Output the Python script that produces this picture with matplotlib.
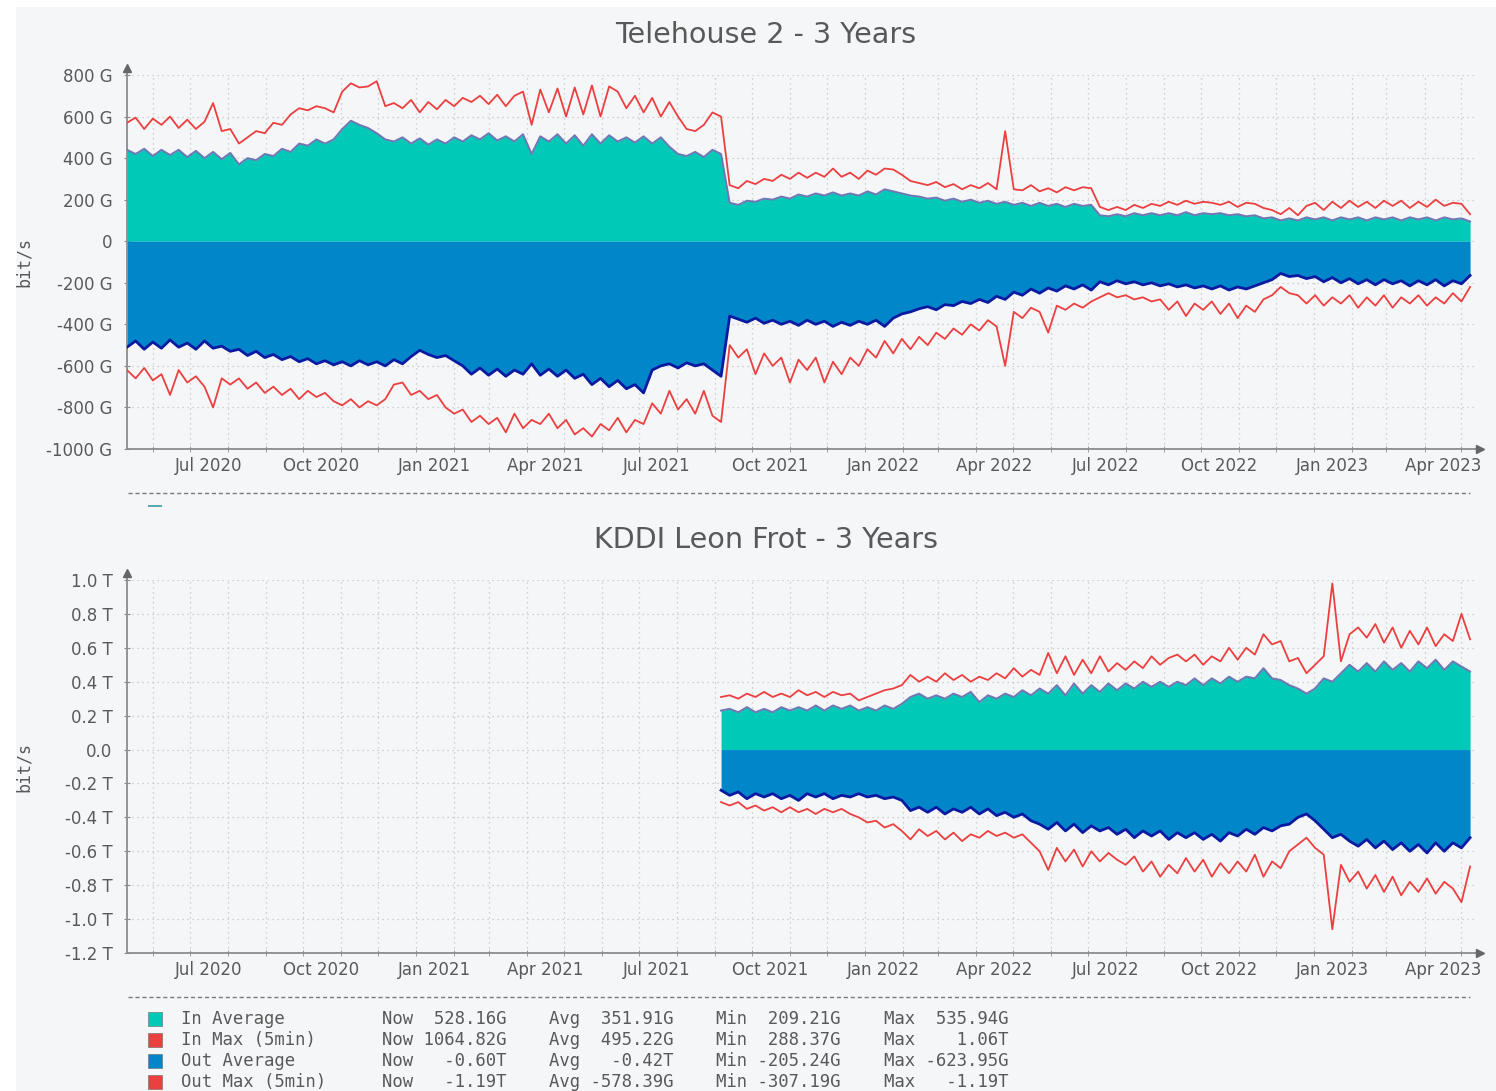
"""Telehouse 2 / KDDI Leon Frot - 3 year traffic graphs (rrd style)."""

import numpy as np
import pandas as pd
import matplotlib
matplotlib.use('Agg')
import matplotlib.pyplot as plt
import matplotlib.dates as mdates
from matplotlib.lines import Line2D
from matplotlib.patches import Rectangle

W, H = 1496, 1091

# weekly samples, 11 May 2020 -> 8 May 2023
dates = pd.date_range('2020-05-11', periods=157, freq='7D')
kddi_first = 69  # KDDI link starts early Sep 2021

# --- Telehouse 2 (G bit/s) ---
th_in_avg = [
    440, 420, 445, 410, 440, 415, 440, 405, 435, 400,
    430, 395, 425, 370, 400, 390, 420, 410, 445, 430,
    470, 460, 490, 470, 490, 540, 580, 560, 545, 520,
    490, 480, 500, 470, 495, 465, 490, 470, 500, 480,
    510, 490, 520, 485, 505, 480, 515, 420, 505, 480,
    515, 470, 510, 460, 515, 470, 510, 480, 500, 475,
    505, 470, 500, 455, 420, 410, 430, 405, 440, 420,
    185, 175, 195, 190, 205, 200, 215, 205, 225, 215,
    230, 220, 235, 220, 230, 220, 240, 225, 250, 240,
    230, 220, 215, 205, 210, 195, 205, 190, 200, 185,
    195, 180, 190, 175, 185, 170, 185, 170, 180, 165,
    180, 170, 175, 125, 120, 130, 120, 135, 125, 135,
    125, 135, 125, 140, 125, 135, 130, 135, 125, 130,
    120, 125, 110, 115, 100, 110, 100, 115, 105, 115,
    100, 115, 105, 115, 100, 115, 105, 115, 100, 115,
    105, 115, 100, 115, 105, 110, 95,
]
th_in_max = [
    570, 595, 540, 590, 560, 600, 545, 585, 540, 575,
    665, 530, 540, 470, 500, 530, 520, 570, 560, 610,
    640, 630, 650, 640, 620, 720, 760, 740, 745, 770,
    650, 665, 640, 680, 620, 670, 635, 680, 650, 690,
    670, 700, 660, 705, 650, 700, 720, 560, 730, 620,
    735, 600, 740, 610, 750, 600, 745, 720, 640, 700,
    620, 690, 600, 670, 600, 540, 530, 560, 620, 600,
    270, 255, 290, 275, 300, 290, 320, 300, 330, 305,
    330, 310, 350, 310, 330, 300, 340, 320, 350, 345,
    320, 290, 280, 270, 285, 260, 275, 250, 270, 255,
    280, 250, 530, 250, 245, 270, 240, 255, 235, 260,
    245, 260, 255, 165, 150, 165, 150, 175, 160, 180,
    170, 190, 175, 195, 180, 190, 185, 175, 190, 165,
    185, 180, 160, 150, 130, 160, 125, 170, 185, 150,
    190, 160, 195, 165, 190, 160, 195, 170, 195, 160,
    190, 165, 200, 170, 185, 180, 130,
]
th_out_avg = [
    -510, -480, -520, -485, -515, -475, -510, -490, -520, -480,
    -515, -505, -530, -520, -550, -530, -560, -545, -570, -555,
    -580, -565, -590, -575, -595, -580, -600, -575, -595, -580,
    -600, -570, -590, -555, -525, -545, -560, -550, -575, -600,
    -640, -610, -645, -615, -650, -620, -640, -590, -645, -615,
    -650, -620, -660, -640, -690, -660, -700, -670, -710, -690,
    -730, -620, -600, -590, -610, -585, -600, -590, -620, -650,
    -360, -375, -390, -370, -395, -380, -400, -385, -405, -380,
    -400, -385, -410, -390, -405, -385, -400, -380, -410, -370,
    -350, -340, -325, -315, -330, -305, -310, -290, -300, -280,
    -295, -265, -280, -245, -260, -230, -250, -225, -240, -215,
    -230, -210, -235, -195, -210, -190, -205, -195, -210, -200,
    -215, -205, -220, -210, -225, -215, -230, -215, -235, -220,
    -230, -215, -200, -185, -155, -170, -165, -180, -170, -195,
    -175, -200, -180, -205, -185, -210, -185, -205, -190, -215,
    -190, -210, -185, -215, -190, -205, -165,
]
th_out_max = [
    -620, -660, -610, -670, -640, -740, -620, -680, -650, -700,
    -800, -660, -690, -660, -710, -680, -730, -700, -740, -710,
    -760, -720, -750, -730, -770, -790, -760, -800, -770, -790,
    -760, -690, -680, -740, -720, -760, -740, -800, -830, -810,
    -870, -840, -880, -850, -920, -830, -900, -860, -880, -830,
    -900, -860, -930, -900, -940, -880, -910, -850, -920, -860,
    -880, -780, -830, -720, -810, -760, -830, -720, -840, -870,
    -500, -560, -520, -640, -540, -600, -560, -680, -570, -620,
    -560, -680, -580, -640, -560, -600, -520, -560, -480, -540,
    -470, -520, -460, -500, -440, -470, -420, -450, -400, -430,
    -380, -410, -600, -340, -370, -320, -340, -440, -310, -330,
    -300, -320, -290, -270, -250, -270, -260, -280, -270, -290,
    -280, -330, -290, -360, -300, -330, -290, -350, -300, -370,
    -310, -340, -280, -260, -220, -250, -260, -300, -260, -310,
    -270, -300, -260, -320, -270, -310, -260, -320, -270, -300,
    -260, -310, -270, -300, -250, -290, -220,
]

# --- KDDI Leon Frot (T bit/s), from kddi_first onwards ---
kd_in_avg = [
    0.23, 0.24, 0.22, 0.25, 0.22, 0.24, 0.22, 0.25, 0.23, 0.25,
    0.23, 0.26, 0.23, 0.26, 0.24, 0.26, 0.23, 0.25, 0.23, 0.26,
    0.24, 0.27, 0.31, 0.33, 0.30, 0.32, 0.30, 0.33, 0.31, 0.34,
    0.28, 0.32, 0.30, 0.33, 0.31, 0.35, 0.32, 0.36, 0.33, 0.38,
    0.32, 0.39, 0.33, 0.38, 0.34, 0.39, 0.35, 0.39, 0.36, 0.40,
    0.37, 0.40, 0.37, 0.40, 0.38, 0.42, 0.38, 0.42, 0.39, 0.43,
    0.40, 0.43, 0.42, 0.48, 0.42, 0.41, 0.38, 0.36, 0.33, 0.36,
    0.42, 0.40, 0.45, 0.50, 0.46, 0.51, 0.46, 0.52, 0.47, 0.51,
    0.46, 0.52, 0.48, 0.53, 0.47, 0.52, 0.49, 0.46,
]
kd_in_max = [
    0.31, 0.32, 0.30, 0.33, 0.31, 0.34, 0.31, 0.33, 0.31, 0.35,
    0.32, 0.34, 0.31, 0.34, 0.32, 0.33, 0.29, 0.31, 0.33, 0.35,
    0.36, 0.38, 0.44, 0.40, 0.43, 0.40, 0.45, 0.41, 0.44, 0.40,
    0.43, 0.41, 0.45, 0.42, 0.48, 0.43, 0.47, 0.44, 0.57, 0.45,
    0.55, 0.44, 0.53, 0.45, 0.55, 0.46, 0.51, 0.47, 0.52, 0.48,
    0.55, 0.50, 0.54, 0.56, 0.52, 0.56, 0.50, 0.55, 0.52, 0.60,
    0.53, 0.60, 0.56, 0.68, 0.62, 0.64, 0.52, 0.54, 0.45, 0.50,
    0.55, 0.98, 0.52, 0.68, 0.72, 0.66, 0.74, 0.63, 0.72, 0.60,
    0.70, 0.62, 0.72, 0.61, 0.68, 0.64, 0.80, 0.65,
]
kd_out_avg = [
    -0.24, -0.27, -0.25, -0.29, -0.26, -0.28, -0.26, -0.29, -0.27, -0.30,
    -0.26, -0.28, -0.26, -0.29, -0.27, -0.28, -0.26, -0.28, -0.27, -0.29,
    -0.28, -0.30, -0.36, -0.34, -0.37, -0.34, -0.38, -0.35, -0.37, -0.34,
    -0.38, -0.35, -0.39, -0.37, -0.40, -0.38, -0.42, -0.44, -0.47, -0.43,
    -0.48, -0.44, -0.49, -0.45, -0.48, -0.46, -0.50, -0.47, -0.52, -0.48,
    -0.51, -0.48, -0.53, -0.49, -0.52, -0.49, -0.53, -0.50, -0.54, -0.49,
    -0.51, -0.47, -0.50, -0.46, -0.48, -0.45, -0.44, -0.40, -0.38, -0.42,
    -0.47, -0.52, -0.50, -0.54, -0.57, -0.53, -0.58, -0.54, -0.59, -0.55,
    -0.60, -0.56, -0.61, -0.55, -0.60, -0.55, -0.58, -0.52,
]
kd_out_max = [
    -0.31, -0.33, -0.31, -0.35, -0.33, -0.36, -0.34, -0.37, -0.34, -0.37,
    -0.35, -0.38, -0.35, -0.37, -0.35, -0.38, -0.40, -0.43, -0.42, -0.46,
    -0.44, -0.48, -0.53, -0.47, -0.51, -0.48, -0.53, -0.49, -0.54, -0.50,
    -0.52, -0.48, -0.51, -0.49, -0.52, -0.50, -0.55, -0.60, -0.71, -0.58,
    -0.66, -0.59, -0.69, -0.60, -0.66, -0.61, -0.65, -0.68, -0.63, -0.72,
    -0.66, -0.75, -0.68, -0.73, -0.64, -0.72, -0.65, -0.75, -0.67, -0.73,
    -0.66, -0.72, -0.62, -0.75, -0.66, -0.70, -0.60, -0.56, -0.52, -0.58,
    -0.62, -1.06, -0.68, -0.78, -0.72, -0.82, -0.74, -0.84, -0.75, -0.86,
    -0.78, -0.84, -0.76, -0.85, -0.78, -0.82, -0.90, -0.69,
]

th_yticks = [800, 600, 400, 200, 0, -200, -400, -600, -800, -1000]
th_ylabels = ['800 G', '600 G', '400 G', '200 G', '0', '-200 G', '-400 G',
              '-600 G', '-800 G', '-1000 G']
kd_yticks = [1.0, 0.8, 0.6, 0.4, 0.2, 0.0, -0.2, -0.4, -0.6, -0.8, -1.0, -1.2]
kd_ylabels = ['1.0 T', '0.8 T', '0.6 T', '0.4 T', '0.2 T', '0.0', '-0.2 T',
              '-0.4 T', '-0.6 T', '-0.8 T', '-1.0 T', '-1.2 T']

legend_names = ['In Average', 'In Max (5min)', 'Out Average', 'Out Max (5min)']
legend_now = ['528.16G', '1064.82G', '-0.60T', '-1.19T']
legend_avg = ['351.91G', '495.22G', '-0.42T', '-578.39G']
legend_min = ['209.21G', '288.37G', '-205.24G', '-307.19G']
legend_max = ['535.94G', '1.06T', '-623.95G', '-1.19T']

TEAL = '#00c9b7'
TEAL_EDGE = '#7176b4'
BLUE = '#0086c9'
NAVY = '#0a1aa0'
RED = '#ec3f3f'
TXT = '#595959'
AXC = '#8c8c8c'
GRIDC = '#c4c4c4'

fig = plt.figure(figsize=(W / 100, H / 100), dpi=100, facecolor='white')
fig.add_artist(Rectangle((16 / W, 0), 1 - 16 / W, 1 - 7 / H, transform=fig.transFigure,
                         facecolor='#f5f6f8', edgecolor='none', zorder=0))

xmin = pd.Timestamp('2020-05-11')
xmax = pd.Timestamp('2023-05-12')
month_starts = pd.date_range('2020-06-01', '2023-05-01', freq='MS')
label_months = [m for m in month_starts if m.month in (1, 4, 7, 10)]
label_pos = [m + pd.Timedelta(days=15) for m in label_months]
label_txt = [m.strftime('%b %Y') for m in label_months]


def make_axes(top_px, bottom_px):
    ax = fig.add_axes([127 / W, 1 - bottom_px / H, (1475 - 127) / W, (bottom_px - top_px) / H])
    ax.set_facecolor('none')
    ax.set_xlim(xmin, xmax)
    for s in ('top', 'right'):
        ax.spines[s].set_visible(False)
    for s in ('left', 'bottom'):
        ax.spines[s].set_color(AXC)
        ax.spines[s].set_linewidth(1.3)
    ax.set_xticks(month_starts, minor=True)
    ax.set_xticks(label_pos, labels=label_txt)
    ax.tick_params(axis='x', which='major', length=0, pad=6, labelsize=12, labelcolor=TXT)
    ax.tick_params(axis='x', which='minor', direction='inout', length=5, color=AXC)
    ax.tick_params(axis='y', direction='inout', length=5, color=AXC, pad=8,
                   labelsize=12, labelcolor=TXT)
    ax.grid(which='minor', axis='x', color=GRIDC, linestyle=(0, (1, 3)), linewidth=0.9)
    ax.grid(which='major', axis='y', color=GRIDC, linestyle=(0, (1, 3)), linewidth=0.9)
    ax.set_axisbelow(True)
    # axis arrows
    ax.plot([0, 0], [1, 1.018], transform=ax.transAxes, color=AXC, lw=1.3, clip_on=False)
    ax.plot([0], [1.018], transform=ax.transAxes, marker='^', ms=6, color='#666666', clip_on=False)
    ax.plot([1, 1.003], [0, 0], transform=ax.transAxes, color=AXC, lw=1.3, clip_on=False)
    ax.plot([1.004], [0], transform=ax.transAxes, marker='>', ms=6, color='#666666', clip_on=False)
    ax.set_ylabel('bit/s', family='DejaVu Sans Mono', fontsize=12, color=TXT)
    ax.yaxis.set_label_coords(-(127 - 33) / ((1475 - 127)), 0.5)
    return ax


def draw(ax, x, in_avg, in_max, out_avg, out_max):
    ax.fill_between(x, 0, in_avg, color=TEAL, lw=0, zorder=2)
    ax.fill_between(x, 0, out_avg, color=BLUE, lw=0, zorder=2)
    ax.plot(x, in_avg, color=TEAL_EDGE, lw=1.4, zorder=3)
    ax.plot(x, out_avg, color=NAVY, lw=2.0, zorder=3)
    ax.plot(x, in_max, color=RED, lw=1.3, zorder=4)
    ax.plot(x, out_max, color=RED, lw=1.3, zorder=4)


# === Telehouse 2 ===
ax1 = make_axes(75, 449)
draw(ax1, dates, th_in_avg, th_in_max, th_out_avg, th_out_max)
ax1.set_ylim(-1000, 800)
ax1.set_yticks(th_yticks, labels=th_ylabels)
fig.text(766 / W, 1 - 35 / H, 'Telehouse 2 - 3 Years', ha='center', va='center',
         fontsize=20.6, color=TXT)

# === KDDI Leon Frot ===
ax2 = make_axes(580, 953)
draw(ax2, dates[kddi_first:], kd_in_avg, kd_in_max, kd_out_avg, kd_out_max)
ax2.set_ylim(-1.2, 1.0)
ax2.set_yticks(kd_yticks, labels=kd_ylabels)
fig.text(766 / W, 1 - 540 / H, 'KDDI Leon Frot - 3 Years', ha='center', va='center',
         fontsize=20.6, color=TXT)

# dashed separators
for ypx in (493, 997):
    fig.add_artist(Line2D([128 / W, 1470 / W], [1 - ypx / H] * 2, transform=fig.transFigure,
                          color='#7a7a7a', lw=1.0, linestyle=(0, (3, 2))))

# clipped legend of the first graph
fig.add_artist(Rectangle((148 / W, 1 - 507 / H), 14 / W, 2 / H, transform=fig.transFigure,
                         facecolor='#5aa9b0', edgecolor='none'))

# legend
sw_colors = [TEAL, RED, BLUE, RED]
mono = dict(family='DejaVu Sans Mono', fontsize=12.4, color=TXT, va='center')
for k, name in enumerate(legend_names):
    yc = 1 - (1019 + 21 * k) / H
    fig.add_artist(Rectangle((148 / W, yc - 7 / H), 14 / W, 14 / H, transform=fig.transFigure,
                             facecolor=sw_colors[k], edgecolor='#666666', lw=0.4))
    fig.text(181 / W, yc, name, **mono)
    fig.text(382 / W, yc, 'Now ' + legend_now[k].rjust(8), **mono)
    fig.text(549 / W, yc, 'Avg ' + legend_avg[k].rjust(8), **mono)
    fig.text(716 / W, yc, 'Min ' + legend_min[k].rjust(8), **mono)
    fig.text(884 / W, yc, 'Max ' + legend_max[k].rjust(8), **mono)

fig.savefig('out.png', dpi=100, facecolor=fig.get_facecolor())
